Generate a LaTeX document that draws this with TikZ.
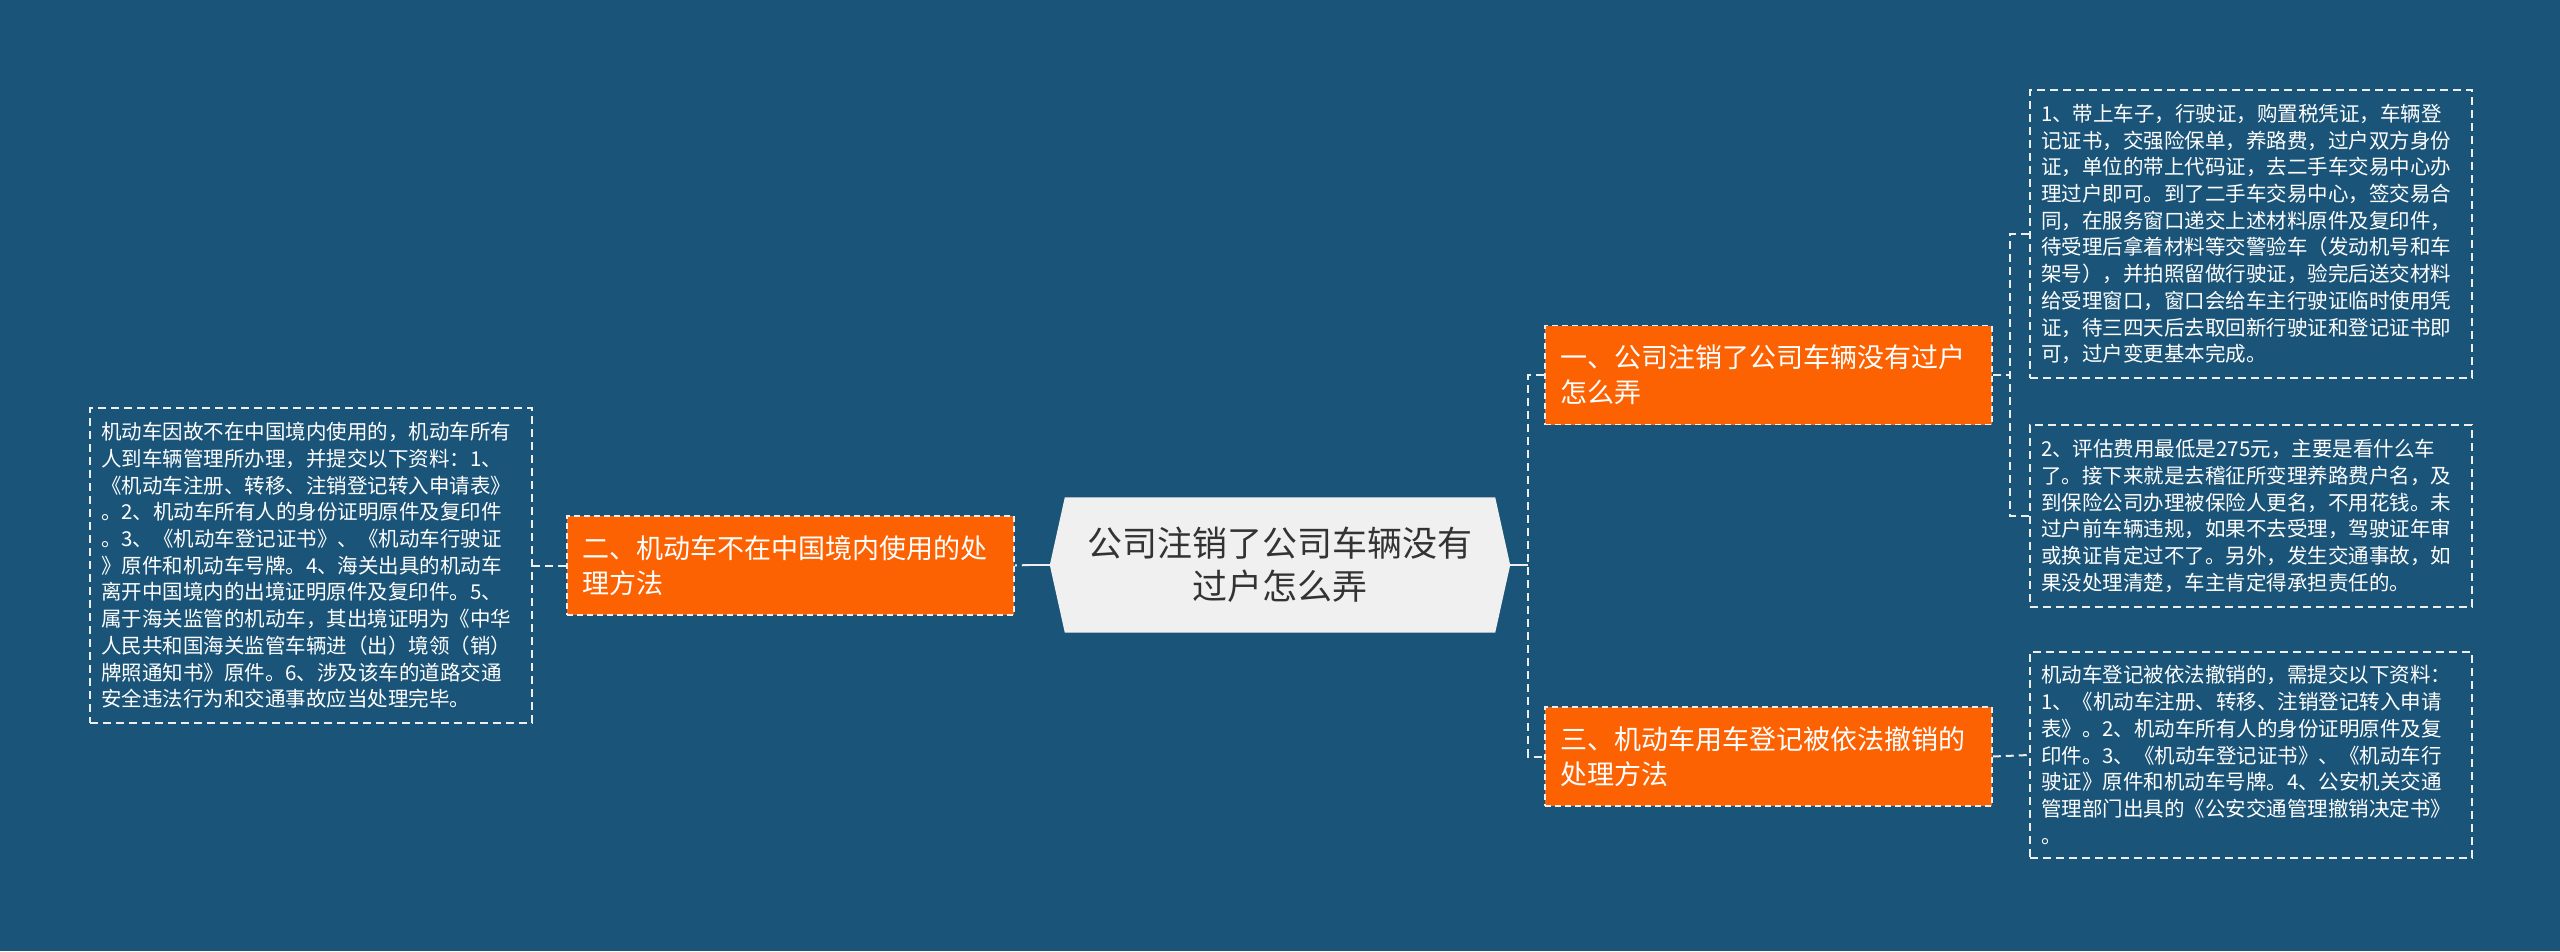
\documentclass[tikz,border=0pt]{standalone}
\usepackage{fontspec}
\setmainfont{Noto Sans CJK SC}
\usetikzlibrary{backgrounds}

\definecolor{bgblue}{RGB}{26,84,120}
\definecolor{topicorange}{RGB}{252,98,2}
\definecolor{rootgray}{RGB}{240,240,240}
\definecolor{textdark}{RGB}{51,51,51}
\definecolor{linewhite}{RGB}{238,238,238}

\tikzset{
  rootnode/.style={font=\fontsize{35}{43}\selectfont, text=textdark, align=center,
    minimum width=430, minimum height=135, inner sep=0},
  topicnode/.style={fill=topicorange, draw=linewhite, line width=1.5pt, dash pattern=on 6pt off 4pt,
    text=white, font=\fontsize{27}{35}\selectfont, align=left, text width=417,
    inner xsep=15, inner ysep=4, minimum height=99},
  notenode/.style={draw=linewhite, line width=1.5pt, dash pattern=on 8pt off 5pt,
    text=white, font=\fontsize{20.5}{26.7}\selectfont, align=left, text width=420,
    inner xsep=11, inner ysep=4},
  link/.style={draw=linewhite, line width=2pt, dash pattern=on 8pt off 5pt},
  solidlink/.style={draw=linewhite, line width=2pt}
}

\begin{document}
\begin{tikzpicture}[x=1pt,y=-1pt]
  \useasboundingbox (0,0) rectangle (2560,951);

  % Root
  \node[rootnode] (root) at (1280,565) {公司注销了公司车辆没有\\过户怎么弄};

  % Topics
  \node[topicnode] (two) at (790.5,565.5) {二、机动车不在中国境内使用的处\\理方法};
  \node[topicnode] (one) at (1768.5,375) {一、公司注销了公司车辆没有过户\\怎么弄};
  \node[topicnode] (three) at (1768.5,756.5) {三、机动车用车登记被依法撤销的\\处理方法};

  % Notes
  \node[notenode, minimum height=315] (leftnote) at (311,565.5) {机动车因故不在中国境内使用的，机动车所有\\
人到车辆管理所办理，并提交以下资料：1、\\
《机动车注册、转移、注销登记转入申请表》\\
。2、机动车所有人的身份证明原件及复印件\\
。3、《机动车登记证书》、《机动车行驶证\\
》原件和机动车号牌。4、海关出具的机动车\\
离开中国境内的出境证明原件及复印件。5、\\
属于海关监管的机动车，其出境证明为《中华\\
人民共和国海关监管车辆进（出）境领（销）\\
牌照通知书》原件。6、涉及该车的道路交通\\
安全违法行为和交通事故应当处理完毕。};

  \node[notenode, minimum height=288] (noteA) at (2251,234) {1、带上车子，行驶证，购置税凭证，车辆登\\
记证书，交强险保单，养路费，过户双方身份\\
证，单位的带上代码证，去二手车交易中心办\\
理过户即可。到了二手车交易中心，签交易合\\
同，在服务窗口递交上述材料原件及复印件，\\
待受理后拿着材料等交警验车（发动机号和车\\
架号），并拍照留做行驶证，验完后送交材料\\
给受理窗口，窗口会给车主行驶证临时使用凭\\
证，待三四天后去取回新行驶证和登记证书即\\
可，过户变更基本完成。};

  \node[notenode, minimum height=182] (noteB) at (2251,516) {2、评估费用最低是275元，主要是看什么车\\
了。接下来就是去稽征所变理养路费户名，及\\
到保险公司办理被保险人更名，不用花钱。未\\
过户前车辆违规，如果不去受理，驾驶证年审\\
或换证肯定过不了。另外，发生交通事故，如\\
果没处理清楚，车主肯定得承担责任的。};

  \node[notenode, minimum height=206] (noteC) at (2251,755) {机动车登记被依法撤销的，需提交以下资料：\\
1、《机动车注册、转移、注销登记转入申请\\
表》。2、机动车所有人的身份证明原件及复\\
印件。3、《机动车登记证书》、《机动车行\\
驶证》原件和机动车号牌。4、公安机关交通\\
管理部门出具的《公安交通管理撤销决定书》\\
。};

  % Background and root shape
  \begin{scope}[on background layer]
    \fill[bgblue] (0,0) rectangle (2560,951);
    \fill[rootgray] ([xshift=-15pt]root.west) -- (root.north west) -- (root.north east)
      -- ([xshift=15pt]root.east) -- (root.south east) -- (root.south west) -- cycle;
  \end{scope}

  % Links
  \draw[solidlink] ([xshift=-15pt]root.west) -- ++(-20,0) coordinate (lj);
  \draw[link] (lj) -- (two.east);
  \draw[link] (two.west) -- (leftnote.east);
  \draw[solidlink] ([xshift=15pt]root.east) -- ++(18,0) coordinate (rj);
  \draw[link] (one.west) -| (rj) |- (three.west);
  \draw[link] (noteA.west) -- ++(-19,0) |- (one.east);
  \draw[link] (noteB.west) -- ++(-19,0) |- (one.east);
  \draw[link] (three.east) -- (noteC.west);
\end{tikzpicture}
\end{document}
